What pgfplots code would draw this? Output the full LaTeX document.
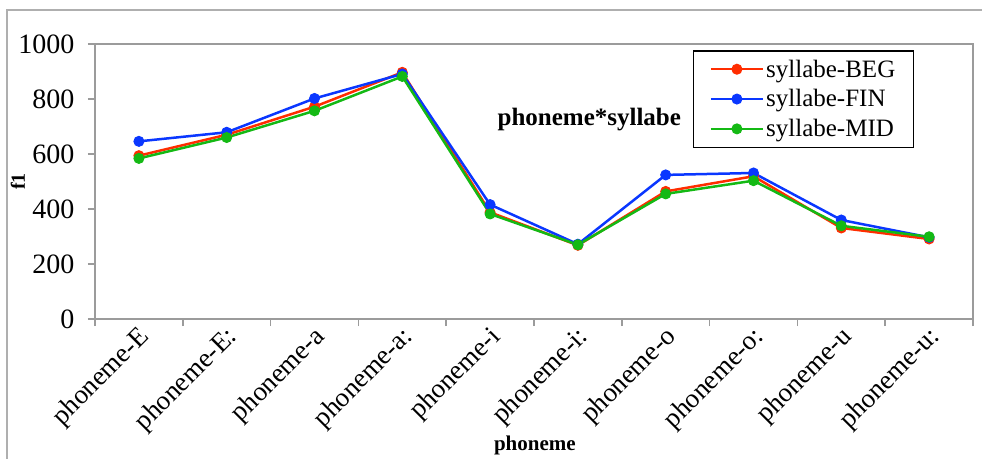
\documentclass[border=0pt]{standalone}
\usepackage{fontspec}
\setmainfont{Liberation Serif}
\usepackage{pgfplots}
\pgfplotsset{compat=1.18}
\definecolor{serBEG}{RGB}{255,45,0}
\definecolor{serFIN}{RGB}{10,55,255}
\definecolor{serMID}{RGB}{20,185,20}
\definecolor{framegray}{RGB}{155,155,155}
\begin{document}
\begin{tikzpicture}
\path[use as bounding box] (0bp,0bp) rectangle (982bp,-459bp);
\draw[framegray!80, line width=1.5bp] (7bp,-459bp) -- (7bp,-10bp) -- (982bp,-10bp);
\begin{axis}[
  at={(95bp,-319bp)}, anchor=south west,
  scale only axis, width=878bp, height=275bp,
  xmin=-0.5, xmax=9.5, ymin=0, ymax=1000,
  ytick={0,200,...,1000},
  xtick={0,...,9},
  xticklabels={phoneme-E,phoneme-E:,phoneme-a,phoneme-a:,phoneme-i,phoneme-i:,phoneme-o,phoneme-o:,phoneme-u,phoneme-u:},
  minor xtick={-0.5,0.5,...,9.5},
  major x tick style={draw=none},
  tick pos=left, tick align=outside,
  major tick length=7bp, minor tick length=7bp,
  tick style={framegray, line width=1.5bp},
  axis line style={framegray, line width=1.6bp},
  /pgf/number format/1000 sep={},
  /pgf/number format/assume math mode=true,
  yticklabel style={font=\fontsize{28bp}{30bp}\selectfont, xshift=-10bp},
  xticklabel style={rotate=45, anchor=east, font=\fontsize{27bp}{30bp}\selectfont, xshift=3bp, yshift=-10bp},
  ylabel={f1},
  ylabel style={at={(axis description cs:-0.088,0.5)}, anchor=center, font=\bfseries\fontsize{20bp}{24bp}\selectfont},
  xlabel={phoneme},
  xlabel style={at={(axis description cs:0.501,-0.458)}, anchor=center, font=\bfseries\fontsize{21bp}{24bp}\selectfont},
  legend style={at={(axis description cs:0.681,0.978)}, anchor=north west, draw=black, line width=1.5bp,
    font=\fontsize{25bp}{27bp}\selectfont, row sep=7bp, inner xsep=16bp, inner ysep=7bp,
    /tikz/every even column/.append style={column sep=2bp}},
  legend cell align=left,
  legend image code/.code={\draw[mark repeat=2,mark phase=2,#1] plot coordinates {(0bp,0bp) (26bp,0bp) (52bp,0bp)};},
  every axis plot/.append style={line width=2.5bp, mark=*, mark size=5bp, mark options={line width=1bp}},
]
\addplot[serBEG] coordinates {(0,594) (1,670) (2,772) (3,897) (4,388) (5,268) (6,464) (7,519) (8,331) (9,291)};
\addlegendentry{syllabe-BEG}
\addplot[serFIN] coordinates {(0,646) (1,679) (2,802) (3,891) (4,416) (5,272) (6,524) (7,531) (8,360) (9,297)};
\addlegendentry{syllabe-FIN}
\addplot[serMID] coordinates {(0,584) (1,660) (2,757) (3,882) (4,382) (5,270) (6,455) (7,503) (8,339) (9,299)};
\addlegendentry{syllabe-MID}
\node[font=\bfseries\fontsize{25bp}{28bp}\selectfont] at (axis description cs:0.563,0.727) {phoneme*syllabe};
\end{axis}
\end{tikzpicture}
\end{document}
